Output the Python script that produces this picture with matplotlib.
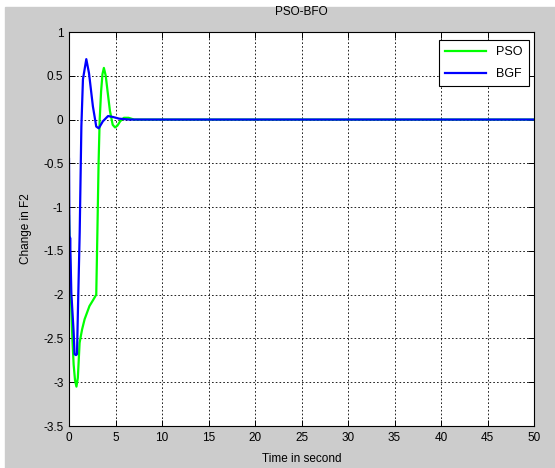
import matplotlib

matplotlib.use("Agg")
import matplotlib.pyplot as plt
from matplotlib.patches import Rectangle

# PSO response (green)
pso_t = [0.0, 0.05, 0.2, 0.36, 0.5, 0.65, 0.8, 0.95, 1.14, 1.4, 1.68, 2.2, 2.6,
         2.93, 3.05, 3.18, 3.3, 3.45, 3.6, 3.75, 3.95, 4.15, 4.4, 4.7, 4.95,
         5.2, 5.5, 5.9, 6.4, 7.0, 8.0, 50.0]
pso_v = [-1.1, -1.3, -2.0, -2.5, -2.8, -2.98, -3.05, -2.95, -2.55, -2.4, -2.28,
         -2.13, -2.06, -2.0, -1.3, -0.5, 0.0, 0.32, 0.52, 0.59, 0.5, 0.32, 0.1,
         -0.06, -0.09, -0.07, -0.02, 0.02, 0.02, 0.0, 0.0, 0.0]

# BGF response (blue)
bgf_t = [0.0, 0.04, 0.08, 0.12, 0.25, 0.5, 0.6, 0.75, 0.86, 0.97, 1.15, 1.33,
         1.5, 1.86, 2.15, 2.57, 2.93, 3.2, 3.64, 4.2, 4.7, 5.4, 6.5, 50.0]
bgf_v = [-0.45, -1.2, -1.56, -1.35, -1.98, -2.43, -2.68, -2.69, -2.68, -2.13,
         -1.29, -0.08, 0.46, 0.69, 0.53, 0.15, -0.08, -0.1, -0.02, 0.04, 0.03,
         0.01, 0.0, 0.0]

x_ticks = [0, 5, 10, 15, 20, 25, 30, 35, 40, 45, 50]
y_ticks = [-3.5, -3, -2.5, -2, -1.5, -1, -0.5, 0, 0.5, 1]
y_labels = ["-3.5", "-3", "-2.5", "-2", "-1.5", "-1", "-0.5", "0", "0.5", "1"]

_GREY = "#cccccc"
_FONT = "Liberation Sans"

fig = plt.figure(figsize=(5.55, 4.68), dpi=100, facecolor="white")
# MATLAB grey figure area, with the thin white strip of the screenshot
fig.patches.append(Rectangle((5 / 555, 0), 1, (468 - 7) / 468,
                             transform=fig.transFigure, color=_GREY, zorder=-1))

ax = fig.add_axes([69 / 555, 42 / 468, 465 / 555, 394 / 468])
ax.set_facecolor("white")
ax.plot(pso_t, pso_v, color="#00ff00", linewidth=1.6, label="PSO")
ax.plot(bgf_t, bgf_v, color="#0000ff", linewidth=1.6, label="BGF")

ax.set_xlim(0, 50)
ax.set_ylim(-3.5, 1)
ax.set_xticks(x_ticks)
ax.set_yticks(y_ticks)
ax.set_xticklabels([str(v) for v in x_ticks], fontsize=8.5, family=_FONT)
ax.set_yticklabels(y_labels, fontsize=8.5, family=_FONT)
ax.tick_params(direction="in", length=4, width=0.7, top=True, right=True,
               pad=4, colors="black")
ax.grid(True, color="black", linestyle=(0, (2, 2.5)), linewidth=0.6)
for spine in ax.spines.values():
    spine.set_linewidth(0.8)

ax.set_title("PSO-BFO", fontsize=8.5, family=_FONT, pad=12)
ax.set_xlabel("Time in second", fontsize=8.5, family=_FONT, labelpad=7)
ax.set_ylabel("Change in F2", fontsize=8.5, family=_FONT, labelpad=8)

leg = ax.legend(loc="upper right", bbox_to_anchor=(0.997, 0.99), fancybox=False,
                framealpha=1, edgecolor="black", prop={"family": _FONT, "size": 9},
                handlelength=3.3, borderaxespad=0.3, labelspacing=0.8,
                borderpad=0.5)
leg.get_frame().set_linewidth(0.8)

fig.savefig("out.png", dpi=100, facecolor="white")
